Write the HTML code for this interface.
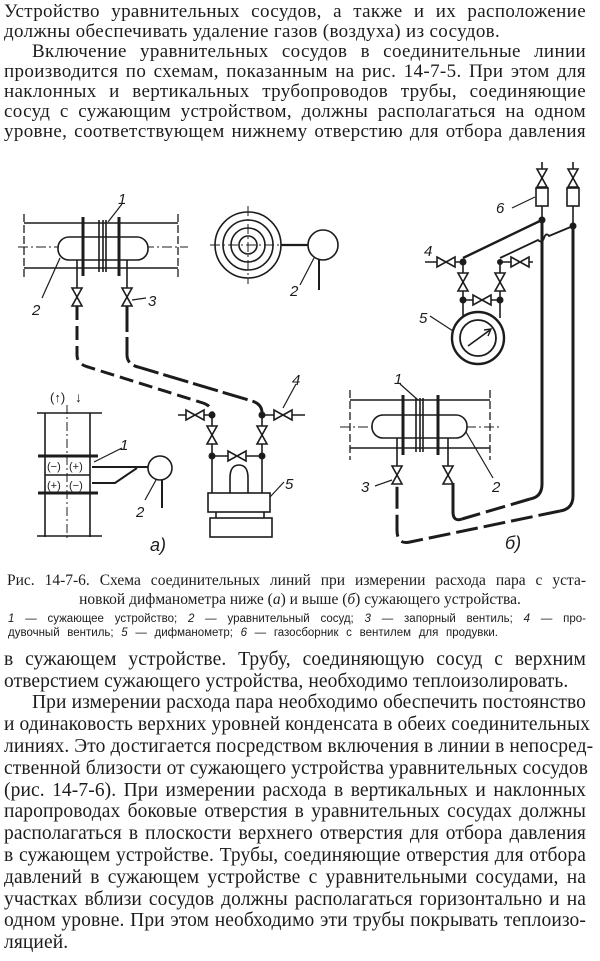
<!DOCTYPE html>
<html><head><meta charset="utf-8"><style>
html,body{margin:0;padding:0;background:#fff;}
body{width:600px;height:961px;position:relative;overflow:hidden;color:#1c1c1c;}
.l{position:absolute;left:4px;width:582px;font-family:"Liberation Serif",serif;font-size:19px;letter-spacing:0.35px;line-height:20px;white-space:nowrap;text-align:justify;text-align-last:justify;}
.b{font-size:19.5px;letter-spacing:0.1px;}
.l.n{text-align-last:left;}
.i{left:32px;width:554px;}
.c{position:absolute;font-family:"Liberation Serif",serif;font-size:15.5px;line-height:17px;white-space:nowrap;}
.g{position:absolute;left:8px;width:578px;font-family:"Liberation Sans",sans-serif;font-size:11.5px;line-height:13px;white-space:nowrap;text-align:justify;text-align-last:justify;}
svg{position:absolute;left:0;top:0;}
</style></head><body>
<div class="l" style="top:2px">Устройство уравнительных сосудов, а также и их расположение</div>
<div class="l n" style="top:22px">должны обеспечивать удаление газов (воздуха) из сосудов.</div>
<div class="l i" style="top:42px">Включение уравнительных сосудов в соединительные линии</div>
<div class="l" style="top:62px">производится по схемам, показанным на рис. 14-7-5. При этом для</div>
<div class="l" style="top:82px">наклонных и вертикальных трубопроводов трубы, соединяющие</div>
<div class="l" style="top:102px">сосуд с сужающим устройством, должны располагаться на одном</div>
<div class="l" style="top:122px">уровне, соответствующем нижнему отверстию для отбора давления</div>

<svg width="600" height="961" viewBox="0 0 600 961">
<defs>
<g id="vv"><polygon points="-5,-9 5,-9 0,0" fill="#fff" stroke="#1c1c1c" stroke-width="1.6"/><polygon points="-5,9 5,9 0,0" fill="#fff" stroke="#1c1c1c" stroke-width="1.6"/></g>
<g id="hv"><polygon points="-9,-5 -9,5 0,0" fill="#fff" stroke="#1c1c1c" stroke-width="1.6"/><polygon points="9,-5 9,5 0,0" fill="#fff" stroke="#1c1c1c" stroke-width="1.6"/></g>
</defs>
<g fill="none" stroke="#1c1c1c" stroke-width="1.6">
<line x1="24" y1="223" x2="178" y2="223"/><line x1="24" y1="268" x2="178" y2="268"/>
<line x1="24" y1="214" x2="24" y2="278" stroke-dasharray="8 3" stroke-width="1.3"/>
<line x1="178" y1="214" x2="178" y2="278" stroke-dasharray="8 3" stroke-width="1.3"/>
<line x1="18" y1="247" x2="188" y2="247" stroke-dasharray="10 3 2 3" stroke-width="1"/>
<rect x="58" y="237" width="90" height="23" rx="11" fill="#fff"/>
<line x1="83" y1="217" x2="83" y2="276" stroke-width="3"/><line x1="119" y1="217" x2="119" y2="276" stroke-width="3"/>
<line x1="99" y1="220" x2="99" y2="272"/><line x1="103" y1="220" x2="103" y2="272"/><line x1="106" y1="220" x2="106" y2="272"/>
<line x1="108" y1="222" x2="122" y2="204" stroke-width="1.2"/>
<line x1="77" y1="260" x2="77" y2="288"/><line x1="127" y1="260" x2="127" y2="288"/>
<line x1="60" y1="258" x2="42" y2="298" stroke-width="1.2"/>
<line x1="132" y1="300" x2="146" y2="298" stroke-width="1.2"/>
<path d="M77 306 V355 Q77 364 88 367 L203 403 Q212 406 212 413" stroke-width="3" stroke-dasharray="14 6"/>
<path d="M127 306 V355 Q127 364 138 367 L252 401 Q262 404 262 413" stroke-width="3" stroke-dasharray="26 5"/>
<line x1="178" y1="415" x2="212" y2="415"/><line x1="262" y1="415" x2="305" y2="415"/>
<line x1="212" y1="415" x2="212" y2="493"/><line x1="262" y1="415" x2="262" y2="493"/>
<line x1="212" y1="456" x2="262" y2="456"/>
<line x1="283" y1="408" x2="296" y2="384" stroke-width="1.2"/>
<path d="M230 493 V478 Q230 465 239 465 Q248 465 248 478 V493"/>
<rect x="208" y="493" width="62" height="19"/>
<line x1="216" y1="512" x2="216" y2="518"/><line x1="264" y1="512" x2="264" y2="518"/>
<rect x="210" y="518" width="62" height="19"/>
<line x1="270" y1="497" x2="284" y2="482" stroke-width="1.2"/>
<circle cx="248" cy="245" r="33"/><circle cx="248" cy="245" r="25"/><circle cx="248" cy="245" r="17"/><circle cx="248" cy="245" r="9"/>
<line x1="248" y1="206" x2="248" y2="284" stroke-dasharray="10 3 2 3" stroke-width="1"/>
<line x1="210" y1="245" x2="282" y2="245" stroke-dasharray="10 3 2 3" stroke-width="1"/>
<line x1="281" y1="245" x2="308" y2="245" stroke-width="2.2"/>
<circle cx="323" cy="245" r="15"/>
<line x1="319" y1="260" x2="319" y2="290" stroke-width="2"/>
<line x1="314" y1="258" x2="300" y2="285" stroke-width="1.2"/>
<line x1="45" y1="413" x2="45" y2="537"/><line x1="90" y1="413" x2="90" y2="537"/>
<line x1="37" y1="413" x2="102" y2="413"/><line x1="37" y1="536" x2="102" y2="536"/>
<line x1="67" y1="405" x2="67" y2="540" stroke-dasharray="9 3 2 3" stroke-width="1"/>
<line x1="38" y1="456" x2="98" y2="456" stroke-width="3"/><line x1="38" y1="493" x2="98" y2="493" stroke-width="3"/>
<line x1="45" y1="475" x2="90" y2="475"/>
<line x1="92" y1="467" x2="148" y2="467" stroke-width="2"/>
<path d="M92 483 H115 L137 468" stroke-width="2"/>
<circle cx="160" cy="468" r="12"/>
<line x1="162" y1="480" x2="162" y2="508" stroke-width="2"/>
<line x1="94" y1="462" x2="122" y2="448" stroke-width="1.2"/>
<line x1="156" y1="480" x2="145" y2="500" stroke-width="1.2"/>
<!-- б) -->
<line x1="542" y1="162" x2="542" y2="220"/><line x1="573" y1="162" x2="573" y2="226"/>
<rect x="536" y="188" width="12" height="18" fill="#fff"/><rect x="567" y="188" width="12" height="18" fill="#fff"/>
<line x1="512" y1="208" x2="535" y2="197" stroke-width="1.2"/>
<path d="M542 220 V484 Q542 497 530 499" stroke-width="3"/>
<path d="M530 499 L462 519" stroke-width="3" stroke-dasharray="20 6"/>
<path d="M462 519 Q453 522 453 512 V483" stroke-width="3"/>
<path d="M573 226 V496 Q573 509 560 511" stroke-width="3"/>
<path d="M560 511 L410 542 Q397 545 397 530 V483" stroke-width="3" stroke-dasharray="22 6"/>
<line x1="542" y1="220" x2="463" y2="258" stroke-width="2.4"/>
<path d="M573 226 L549 236 Q546 232 544 238 Q542 244 538 240 L500 258" stroke-width="1.8"/>
<line x1="425" y1="262" x2="463" y2="262"/><line x1="500" y1="262" x2="533" y2="262"/>
<line x1="463" y1="262" x2="463" y2="318"/><line x1="500" y1="262" x2="500" y2="318"/>
<line x1="463" y1="300" x2="500" y2="300"/>
<circle cx="478" cy="338" r="26" stroke-width="2.4" fill="#fff"/><circle cx="478" cy="338" r="18" stroke-width="1.8"/>
<line x1="468" y1="346" x2="490" y2="330" stroke-width="1.6"/>
<path d="M484 330 L491 329 L488 336" stroke-width="1.4"/>
<line x1="430" y1="316" x2="453" y2="331" stroke-width="1.2"/>
<line x1="350" y1="400" x2="490" y2="400"/><line x1="350" y1="448" x2="490" y2="448"/>
<line x1="350" y1="390" x2="350" y2="460" stroke-dasharray="8 3" stroke-width="1.3"/>
<line x1="490" y1="390" x2="490" y2="460" stroke-dasharray="8 3" stroke-width="1.3"/>
<line x1="340" y1="427" x2="500" y2="427" stroke-dasharray="10 3 2 3" stroke-width="1"/>
<rect x="372" y="415" width="95" height="23" rx="11" fill="#fff"/>
<line x1="403" y1="395" x2="403" y2="455" stroke-width="3"/><line x1="438" y1="395" x2="438" y2="455" stroke-width="3"/>
<line x1="416" y1="398" x2="416" y2="452"/><line x1="420" y1="398" x2="420" y2="452"/><line x1="423" y1="398" x2="423" y2="452"/>
<line x1="397" y1="438" x2="397" y2="467"/><line x1="448" y1="438" x2="448" y2="467"/>
<line x1="400" y1="384" x2="418" y2="400" stroke-width="1.2"/>
<line x1="466" y1="432" x2="493" y2="478" stroke-width="1.2"/>
<line x1="375" y1="486" x2="392" y2="480" stroke-width="1.2"/>
</g>
<g fill="#1c1c1c">
<circle cx="212" cy="415" r="3.5"/><circle cx="262" cy="415" r="3.5"/><circle cx="212" cy="456" r="3.5"/><circle cx="262" cy="456" r="3.5"/>
<circle cx="542" cy="220" r="3.5"/><circle cx="573" cy="226" r="3.5"/><circle cx="463" cy="262" r="3.5"/><circle cx="500" cy="262" r="3"/><circle cx="463" cy="300" r="3.5"/><circle cx="500" cy="300" r="3.5"/>
</g>
<use href="#vv" x="77" y="297"/><use href="#vv" x="127" y="297"/>
<use href="#hv" x="195" y="415"/><use href="#hv" x="283" y="415"/>
<use href="#vv" x="212" y="435"/><use href="#vv" x="262" y="435"/><use href="#hv" x="237" y="456"/>
<use href="#vv" x="542" y="178"/><use href="#vv" x="573" y="178"/>
<use href="#hv" x="446" y="262"/><use href="#hv" x="520" y="262"/>
<use href="#vv" x="463" y="282"/><use href="#vv" x="500" y="282"/><use href="#hv" x="482" y="300"/>
<use href="#vv" x="397" y="475"/><use href="#vv" x="448" y="475"/>
<g font-family="Liberation Sans, sans-serif" font-style="italic" font-size="15" fill="#1c1c1c">
<text x="118" y="204">1</text><text x="32" y="315">2</text><text x="148" y="306">3</text>
<text x="292" y="385">4</text><text x="285" y="489">5</text><text x="290" y="296">2</text>
<text x="120" y="450">1</text><text x="136" y="517">2</text>
<text x="496" y="213">6</text><text x="424" y="256">4</text><text x="419" y="323">5</text>
<text x="394" y="384">1</text><text x="492" y="492">2</text><text x="361" y="492">3</text>
<text x="150" y="551" font-size="18">a)</text><text x="505" y="549" font-size="18">б)</text>
<text x="50" y="402" font-size="13" font-style="normal">(↑)</text><text x="75" y="402" font-size="14" font-style="normal">↓</text>
</g>
<g font-family="Liberation Sans, sans-serif" font-size="11" fill="#1c1c1c">
<text x="47" y="470">(−)</text><text x="69" y="470">(+)</text>
<text x="47" y="489">(+)</text><text x="69" y="489">(−)</text>
</g>
</svg>

<div class="c" style="top:572px;left:7px;width:579px;text-align:justify;text-align-last:justify">Рис. 14-7-6. Схема соединительных линий при измерении расхода пара с уста-</div>
<div class="c" style="top:591px;left:0;width:600px;text-align:center">новкой дифманометра ниже (<i>а</i>) и выше (<i>б</i>) сужающего устройства.</div>
<div class="g" style="top:613px"><i>1</i> — сужающее устройство; <i>2</i> — уравнительный сосуд; <i>3</i> — запорный вентиль; <i>4</i> — про-</div>
<div class="g" style="top:627px;width:490px">дувочный вентиль; <i>5</i> — дифманометр; <i>6</i> — газосборник с вентилем для продувки.</div>

<div class="l b" style="top:650px">в сужающем устройстве. Трубу, соединяющую сосуд с верхним</div>
<div class="l b n" style="top:672px">отверстием сужающего устройства, необходимо теплоизолировать.</div>
<div class="l b i" style="top:693px">При измерении расхода пара необходимо обеспечить постоянство</div>
<div class="l b" style="top:715px">и одинаковость верхних уровней конденсата в обеих соединительных</div>
<div class="l b" style="top:737px">линиях. Это достигается посредством включения в линии в непосред-</div>
<div class="l b" style="top:759px">ственной близости от сужающего устройства уравнительных сосудов</div>
<div class="l b" style="top:781px">(рис. 14-7-6). При измерении расхода в вертикальных и наклонных</div>
<div class="l b" style="top:802px">паропроводах боковые отверстия в уравнительных сосудах должны</div>
<div class="l b" style="top:824px">располагаться в плоскости верхнего отверстия для отбора давления</div>
<div class="l b" style="top:846px">в сужающем устройстве. Трубы, соединяющие отверстия для отбора</div>
<div class="l b" style="top:868px">давлений в сужающем устройстве с уравнительными сосудами, на</div>
<div class="l b" style="top:890px">участках вблизи сосудов должны располагаться горизонтально и на</div>
<div class="l b" style="top:911px">одном уровне. При этом необходимо эти трубы покрывать теплоизо-</div>
<div class="l b n" style="top:933px">ляцией.</div>
</body></html>
